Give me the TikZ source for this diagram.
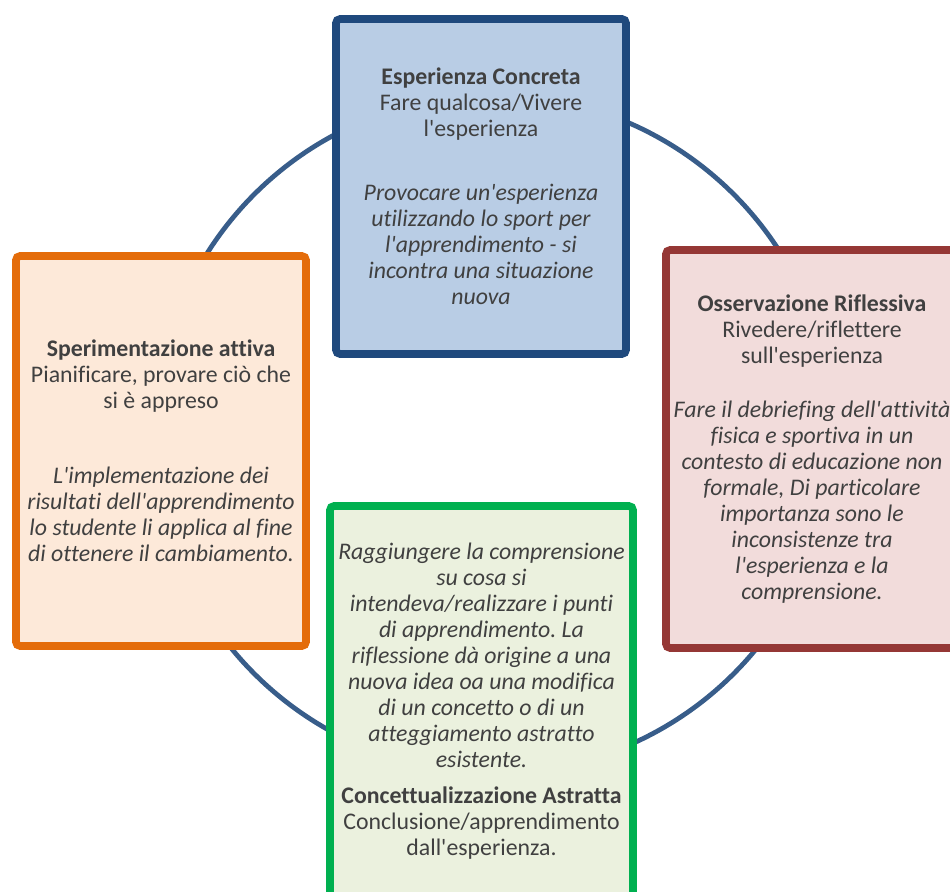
\documentclass[tikz,border=0pt]{standalone}
\usepackage{fontspec}
\setmainfont{Carlito}[Ligatures={TeXOff,CommonOff}]
\frenchspacing
\usetikzlibrary{positioning}
\definecolor{ring}{HTML}{385D8A}
\definecolor{txt}{HTML}{404040}
\definecolor{blueline}{HTML}{1F497D}
\definecolor{bluefill}{HTML}{B9CDE5}
\definecolor{redline}{HTML}{953735}
\definecolor{redfill}{HTML}{F2DCDB}
\definecolor{orangeline}{HTML}{E46C0A}
\definecolor{orangefill}{HTML}{FDE9D9}
\definecolor{greenline}{HTML}{00B050}
\definecolor{greenfill}{HTML}{EBF1DE}

\begin{document}
\begin{tikzpicture}[x=0.5pt,y=-0.5pt,font=\fontsize{11.9}{13}\selectfont,box/.style={line width=3.8pt,rounded corners=2pt,align=center,text=txt,inner sep=0pt},cycle/.style={line width=2.4pt,draw=ring}]
\useasboundingbox (0,0) rectangle (950,892);
\draw[cycle] (494,434) circle[radius=339];
\node[box,draw=blueline,fill=bluefill,minimum width=145pt,minimum height=167.5pt] (conc) at (481,186.5) {\textbf{Esperienza Concreta}\\Fare qualcosa/Vivere\\l'esperienza\\[19pt]\itshape Provocare un'esperienza\\\itshape utilizzando lo sport per\\\itshape l'apprendimento - si\\\itshape incontra una situazione\\\itshape nuova};
\node[box,draw=redline,fill=redfill,minimum width=146pt,minimum height=199pt] (rifl) at (812,449) {\textbf{Osservazione Riflessiva}\\Rivedere/riflettere\\sull'esperienza\\[14pt]\itshape Fare il debriefing dell'attività\\\itshape fisica e sportiva in un\\\itshape contesto di educazione non\\\itshape formale, Di particolare\\\itshape importanza sono le\\\itshape inconsistenze tra\\\itshape l'esperienza e la\\\itshape comprensione.};
\node[box,draw=orangeline,fill=orangefill,minimum width=145pt,minimum height=195pt] (sper) at (161,451) {\textbf{Sperimentazione attiva}\\Pianificare, provare ciò che\\si è appreso\\[24.5pt]\itshape L'implementazione dei\\\itshape risultati dell'apprendimento\\\itshape lo studente li applica al fine\\\itshape di ottenere il cambiamento.};
\node[box,draw=greenline,fill=greenfill,minimum width=151.5pt,minimum height=195.5pt] (astr) at (481.5,701.5) {\itshape Raggiungere la comprensione\\\itshape su cosa si\\\itshape intendeva/realizzare i punti\\\itshape di apprendimento. La\\\itshape riflessione dà origine a una\\\itshape nuova idea oa una modifica\\\itshape di un concetto o di un\\\itshape atteggiamento astratto\\\itshape esistente.\\[5pt]\textbf{Concettualizzazione Astratta}\\Conclusione/apprendimento\\dall'esperienza.};
\end{tikzpicture}
\end{document}
